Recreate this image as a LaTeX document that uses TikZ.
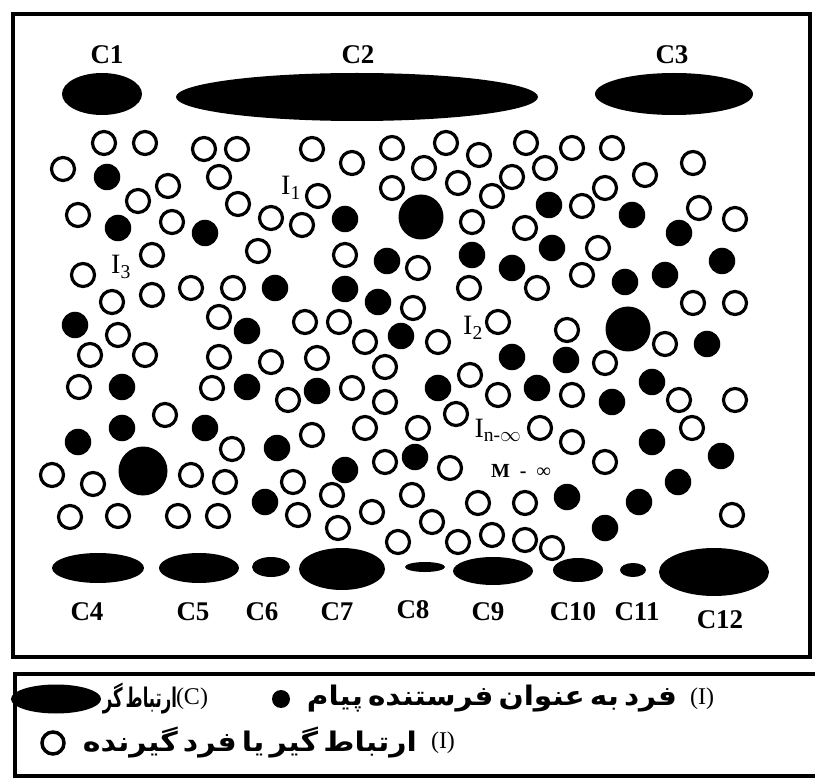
\documentclass[tikz,border=0pt]{standalone}
\usepackage{graphicx}
\usepackage{fontspec}
\setmainfont{Liberation Serif}
\newfontfamily\persianfont[Script=Arabic, WordSpace=0.5]{DejaVu Sans}
\TeXXeTstate=1
\usetikzlibrary{shapes.geometric}

\begin{document}
\begin{tikzpicture}[x=1pt, y=-1pt,
    receiver/.style={circle, draw, line width=3.2pt, minimum size=23pt, inner sep=0pt},
    sender/.style={circle, fill, minimum size=26.5pt, inner sep=0pt},
    linker/.style={ellipse, fill, inner sep=0pt},
    clabel/.style={font=\fontsize{27}{30}\selectfont\bfseries, inner sep=0pt},
    ilabel/.style={font=\fontsize{28}{30}\selectfont, inner sep=0pt},
    keytext/.style={font=\persianfont\bfseries\fontsize{27}{30}\selectfont, inner sep=0pt}]

\useasboundingbox (0,0) rectangle (815,778);

% Frames
\draw[line width=4pt] (13,14) rectangle (810,657);
\draw[line width=4pt] (15,674) rectangle (830,776);

% Communicators (C)
\foreach \x/\y/\w/\h [count=\i] in {102/94/80/42, 357/97/362/48, 674/94/158/42,
    98/568/92/30, 199/568/80/30, 271/567/38/20, 342/569/86/42, 425/567/40/10,
    493/571/80/28, 578/570/50/24, 633/570/26/14, 714/572/110/48} {
    \node[linker, minimum width=\w, minimum height=\h] (c\i) at (\x,\y) {};
}

% Communicator labels
\foreach \x/\y [count=\i] in {107/55, 358/55, 672/55, 87/612, 193/612, 262/612,
    337/612, 413/610, 488/612, 573/612, 637/612, 720/620} {
    \node[clabel] (lc\i) at (\x,\y) {C\i};
}

% Receivers (open circles)
\foreach \x/\y [count=\i] in {104/143, 145/143, 63/169, 204/149, 237/149, 219/177,
    168/186, 138/201, 78/215, 172/222, 238/204, 271/218, 258/251, 152/255, 83/275,
    152/295, 191/288, 233/288, 112/302, 219/317, 118/335, 90/355, 145/355, 219/357,
    271/362, 312/149, 352/163, 392/148, 446/143, 424/168, 479/155, 458/183, 512/177,
    526/143, 492/196, 318/196, 392/188, 302/225, 472/222, 525/228, 345/255, 418/268,
    469/288, 413/308, 537/288, 305/322, 339/322, 365/342, 438/342, 498/322, 317/358,
    385/367, 572/148, 612/148, 545/168, 645/175, 693/163, 605/188, 582/206, 699/208,
    735/219, 598/248, 582/275, 693/303, 735/303, 567/330, 665/344, 605/363, 79/387,
    165/415, 212/388, 232/449, 52/475, 93/484, 191/475, 225/482, 70/517, 118/516,
    178/516, 218/516, 288/400, 352/388, 385/402, 470/375, 498/395, 312/435, 365/428,
    418/428, 456/414, 385/462, 450/468, 293/482, 332/495, 412/495, 478/503, 525/503,
    298/515, 372/512, 338/528, 432/522, 398/542, 458/542, 492/535, 525/540, 572/395,
    679/400, 735/400, 540/428, 572/442, 692/428, 605/462, 732/515, 552/548} {
    \node[receiver] (r\i) at (\x,\y) {};
}

% Senders (filled circles)
\foreach \x/\y [count=\i] in {107/177, 118/228, 205/233, 275/288, 75/325, 247/331,
    345/219, 387/261, 472/255, 512/268, 345/289, 378/302, 401/336, 512/357, 549/205,
    632/215, 679/233, 552/248, 722/261, 625/282, 665/275, 707/344, 566/360, 122/387,
    247/387, 122/428, 78/442, 205/428, 277/448, 265/502, 317/391, 438/388, 345/470,
    415/457, 537/388, 612/402, 652/382, 652/442, 721/456, 678/482, 567/497, 639/502,
    605/528} {
    \node[sender] (s\i) at (\x,\y) {};
}

% Large senders
\foreach \x/\y/\d [count=\i] in {421/217/45, 628/329/45, 143/471/49} {
    \node[sender, minimum size=\d] (b\i) at (\x,\y) {};
}

% Individual labels
\node[ilabel] (i1) at (291,188) {I\textsubscript{1}};
\node[ilabel] (i2) at (473,328) {I\textsubscript{2}};
\node[ilabel] (i3) at (121,267) {I\textsubscript{3}};
\node[ilabel] (in) at (498,430) {I\textsubscript{n-$\infty$}};
\node[font=\fontsize{20}{22}\selectfont\bfseries, inner sep=0pt] (m) at (521,471)
    {M\hspace{10pt}-\hspace{10pt}∞};

% Legend
\node[linker, minimum width=90, minimum height=29] (key1) at (56,699) {};
\node[keytext] (t1) at (140,699) {\resizebox{74pt}{\height}{\beginR ارتباط گر\endR}};
\node[ilabel, font=\fontsize{24}{28}\selectfont] (k1) at (192,699) {(C)};
\node[sender, minimum size=18] (key2) at (281,699) {};
\node[keytext] (t2) at (492,699) {\resizebox{370pt}{\height}{\beginR فرد به عنوان فرستنده پیام\endR}};
\node[ilabel, font=\fontsize{24}{28}\selectfont] (k2) at (702,699) {(I)};
\node[receiver, minimum size=22, line width=3.5pt] (key3) at (53,743) {};
\node[keytext] (t3) at (250,743) {\resizebox{334pt}{\height}{\beginR ارتباط گیر یا فرد گیرنده\endR}};
\node[ilabel, font=\fontsize{24}{28}\selectfont] (k3) at (443,743) {(I)};

\end{tikzpicture}
\end{document}
